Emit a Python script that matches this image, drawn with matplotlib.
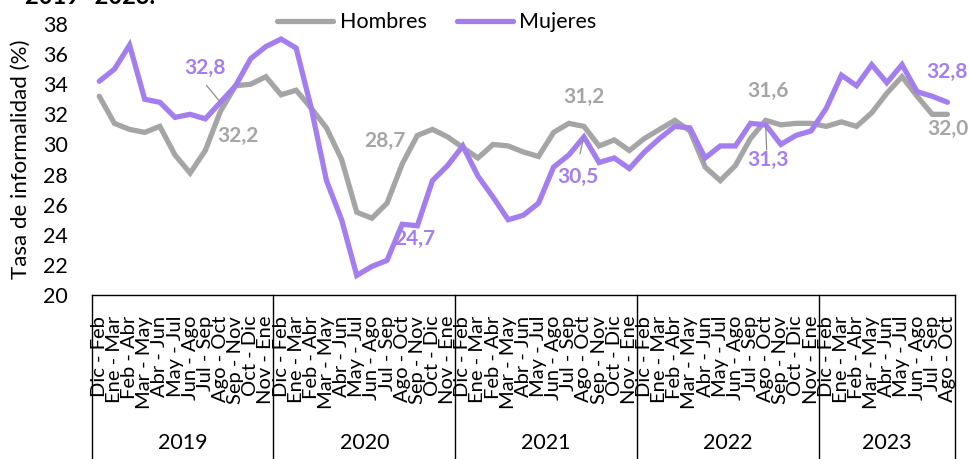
import matplotlib
matplotlib.use("Agg")
import matplotlib.pyplot as plt
import matplotlib.transforms as mtransforms

plt.rcParams['font.family'] = ['Lato', 'DejaVu Sans']

years = ["2019", "2020", "2021", "2022", "2023"]
periods = ["Dic - Feb", "Ene - Mar", "Feb - Abr", "Mar - May", "Abr - Jun", "May - Jul",
           "Jun - Ago", "Jul - Sep", "Ago - Oct", "Sep - Nov", "Oct - Dic", "Nov - Ene"]
periods_per_year = [12, 12, 12, 12, 9]

hombres = [33.2, 31.4, 31.0, 30.8, 31.2, 29.3, 28.1, 29.6, 32.2, 33.9, 34.0, 34.5,
           33.3, 33.6, 32.4, 31.1, 29.0, 25.5, 25.1, 26.1, 28.7, 30.6, 31.0, 30.5,
           29.8, 29.1, 30.0, 29.9, 29.5, 29.2, 30.8, 31.4, 31.2, 29.9, 30.3, 29.6,
           30.4, 31.0, 31.6, 30.9, 28.5, 27.6, 28.6, 30.4, 31.6, 31.3, 31.4, 31.4,
           31.2, 31.5, 31.2, 32.1, 33.4, 34.5, 33.2, 32.0, 32.0]
mujeres = [34.2, 35.0, 36.6, 33.0, 32.8, 31.8, 32.0, 31.7, 32.8, 33.9, 35.7, 36.5,
           37.0, 36.4, 32.4, 27.6, 25.0, 21.3, 21.9, 22.3, 24.7, 24.6, 27.6, 28.6,
           29.9, 27.9, 26.5, 25.0, 25.3, 26.1, 28.5, 29.3, 30.5, 28.8, 29.1, 28.4,
           29.5, 30.4, 31.2, 31.1, 29.1, 29.9, 29.9, 31.4, 31.3, 30.0, 30.6, 30.9,
           32.4, 34.6, 33.9, 35.3, 34.1, 35.3, 33.5, 33.2, 32.8]

# data labels: (index, text, offset px (dx, dy_down))
labels_h = [(8, "32,2", (17, 25)), (20, "28,7", (-17, -23)), (32, "31,2", (0, -29)),
            (44, "31,6", (2, -29)), (56, "32,0", (0, 15))]
labels_m = [(8, "32,8", (-15, -34)), (20, "24,7", (13, 15)), (32, "30,5", (-6, 40)),
            (44, "31,3", (2, 35)), (56, "32,8", (0, -30))]

GRAY = "#A5A5A5"
PURPLE = "#A47DEF"

tick_labels = []
for y, n in zip(years, periods_per_year):
    tick_labels += periods[:n]
x = list(range(len(tick_labels)))

W, H = 970, 459
fig = plt.figure(figsize=(W / 100, H / 100), dpi=100)
L, R, T, B = 91.7, 955, 24, 295
ax = fig.add_axes([L / W, 1 - B / H, (R - L) / W, (B - T) / H])

ax.plot(x, hombres, color=GRAY, lw=3.8, solid_joinstyle='miter', solid_capstyle='round', label="Hombres", zorder=3)
ax.plot(x, mujeres, color=PURPLE, lw=3.8, solid_joinstyle='miter', solid_capstyle='round', label="Mujeres", zorder=4)

ax.set_xlim(-0.5, len(x) - 0.5)
ax.set_ylim(20, 38)
ax.set_yticks(range(20, 39, 2))
ax.tick_params(axis='y', length=0, pad=17, labelsize=15.5)
ax.set_xticks(x)
ax.set_xticklabels(tick_labels, rotation=90, fontsize=14.5, va='top', ha='center')
ax.tick_params(axis='x', length=0, pad=15)
for s in ['top', 'right', 'left']:
    ax.spines[s].set_visible(False)
ax.spines['bottom'].set_color('black')
ax.spines['bottom'].set_linewidth(1.0)

ax.set_ylabel("Tasa de informalidad (%)", fontsize=16)
ax.yaxis.set_label_coords(-0.071, 0.5)

# year groups
trans = mtransforms.blended_transform_factory(ax.transData, ax.transAxes)
bottom_ext = -(H - B + 5) / (B - T)
bounds = [-0.5]
for n in periods_per_year:
    bounds.append(bounds[-1] + n)
for b in bounds:
    ax.plot([b, b], [0, bottom_ext], transform=trans, color='black', lw=1.0, clip_on=False)
for i, yname in enumerate(years):
    cx = (bounds[i] + bounds[i + 1]) / 2
    ax.text(cx, -(443 - B) / (B - T), yname, transform=trans, ha='center', va='center', fontsize=15.5)

def add_labels(series, lab, color):
    for idx, txt, (dx, dy) in lab:
        ax.annotate(txt, xy=(idx, series[idx]), xytext=(dx * 0.72, -dy * 0.72),
                    textcoords='offset points', ha='center', va='center',
                    fontsize=15, fontweight='bold', color=color, zorder=6)

add_labels(hombres, labels_h, GRAY)
add_labels(mujeres, labels_m, PURPLE)

# leader lines (thin gray)
leader_specs = [(8, mujeres[8], (-14, -17)), (32, mujeres[32], (-4, 17)),
                (44, mujeres[44], (1, 25))]
for idx, val, (x0, y0) in leader_specs:
    ax.annotate("", xy=(idx, val), xytext=(x0 * 0.72, -y0 * 0.72), textcoords='offset points',
                arrowprops=dict(arrowstyle='-', color='#8C8C8C', lw=0.9, shrinkA=0, shrinkB=0), zorder=5)

leg = ax.legend(loc='upper center', bbox_to_anchor=(0.40, 1.115), ncol=2, frameon=False,
                fontsize=15.5, handlelength=2.6, columnspacing=1.4, handletextpad=0.3)

fig.text(25 / W, 1 - 4 / H, "2019 -2023.", fontsize=17, fontweight='bold', va='baseline', ha='left')

fig.savefig("out.png", dpi=100)
